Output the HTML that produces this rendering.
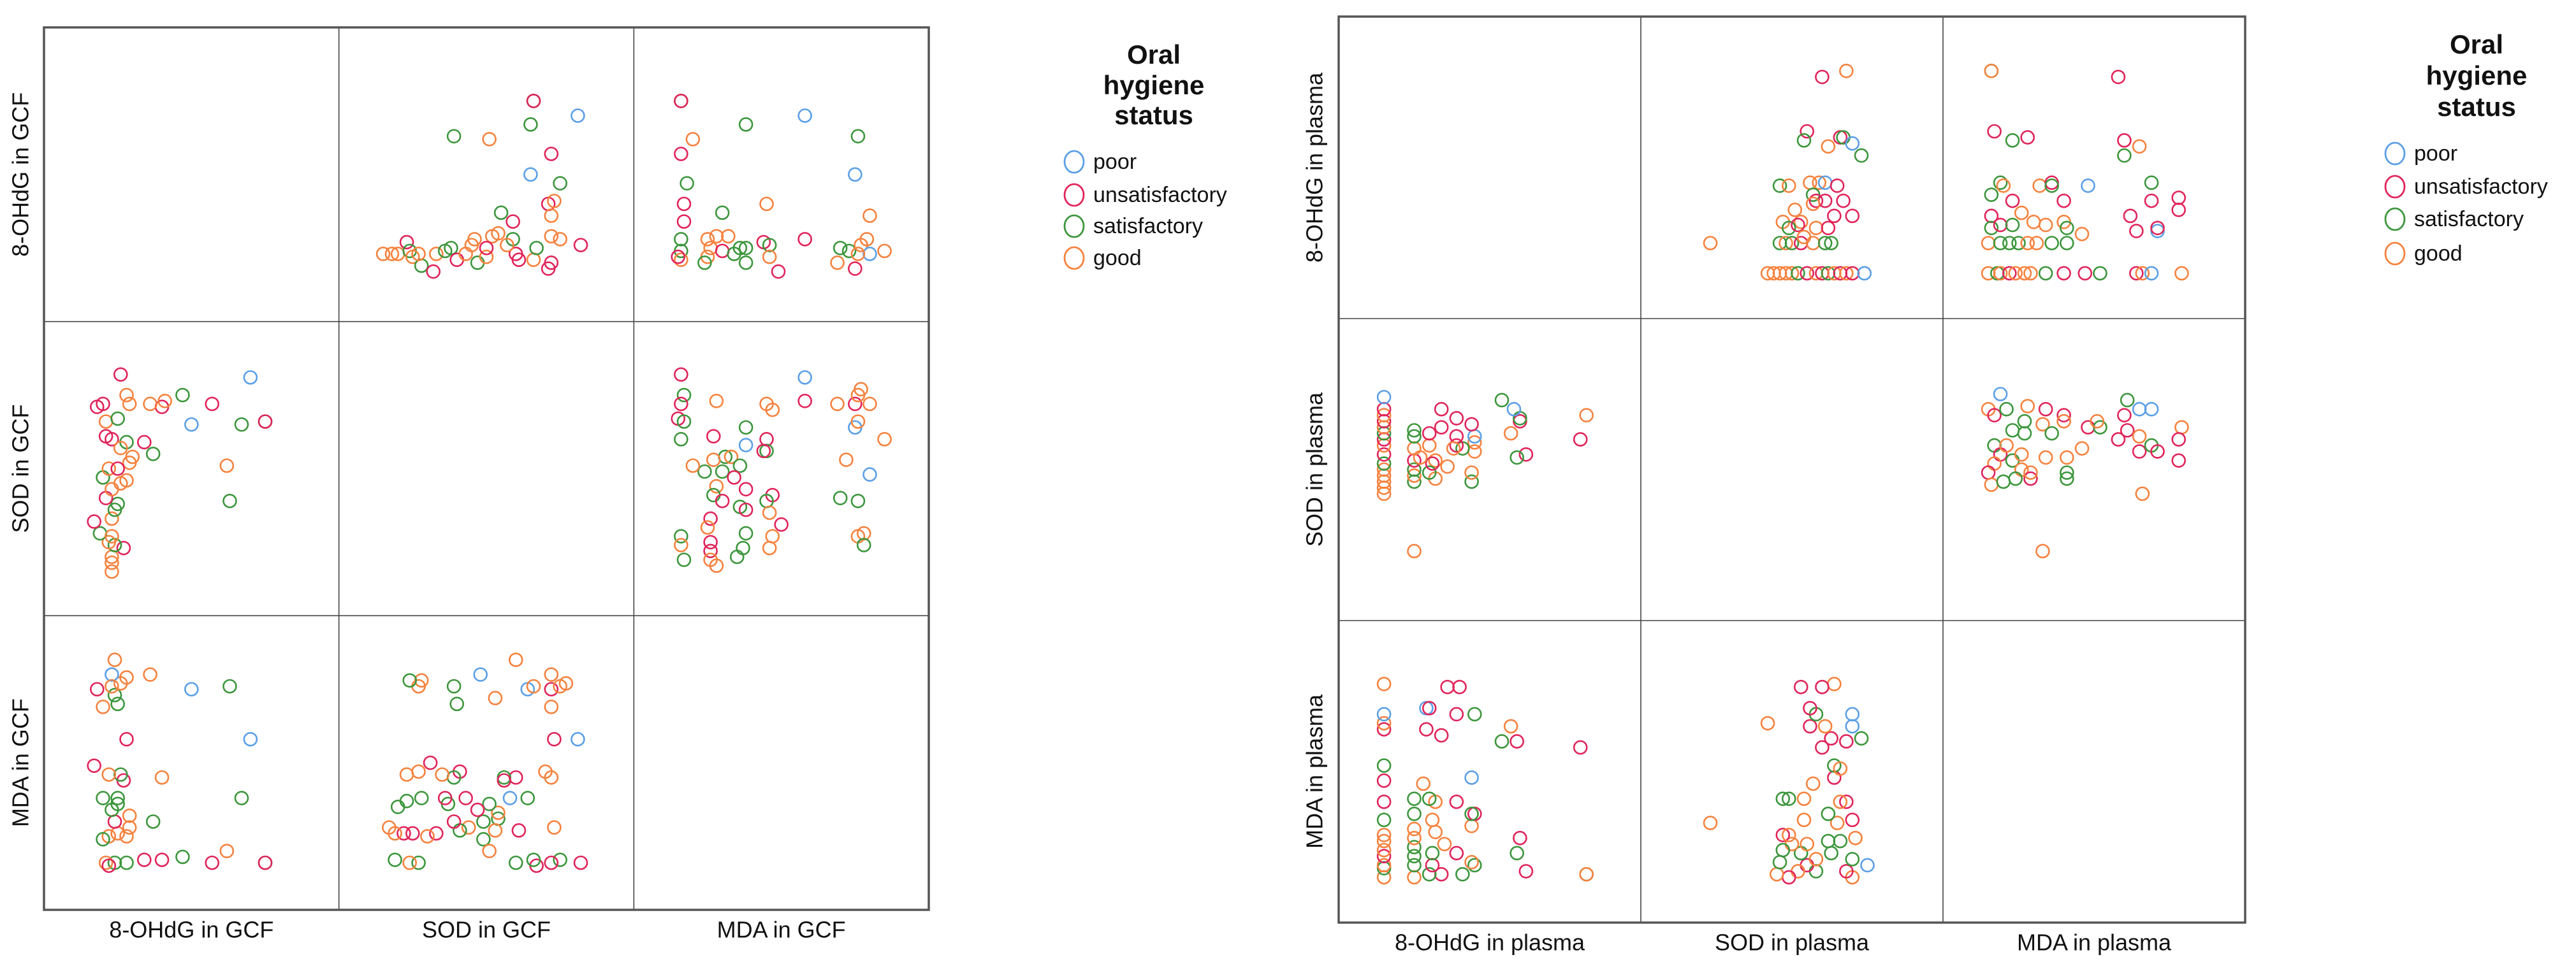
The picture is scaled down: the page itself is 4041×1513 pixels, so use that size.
<!DOCTYPE html>
<html><head><meta charset="utf-8"><style>
html,body{margin:0;padding:0;background:#fff;}
svg{display:block;}
text{font-family:"Liberation Sans",sans-serif;fill:#111;}
</style></head><body>
<svg id="c" width="4041" height="1513" viewBox="0 0 4041 1513" xmlns="http://www.w3.org/2000/svg"></svg>
<script>
// Data values on a 0-100 scale per variable; group: p=poor,u=unsatisfactory,s=satisfactory,g=good
const groupKeys = ['p','u','s','g'];
const groupLabels = ['poor','unsatisfactory','satisfactory','good'];
const gcfVars = ['8-OHdG in GCF','SOD in GCF','MDA in GCF'];
const plasmaVars = ['8-OHdG in plasma','SOD in plasma','MDA in plasma'];
// GCF: SOD (x) vs 8-OHdG (y)
const gcfSodOhdg = [[66,75,'s'],[66,75,'u'],[81,70,'p'],[39,63,'s'],[51,62,'g'],[65,67,'s'],[72,57,'u'],[65,50,'p'],[75,47,'s'],[71,40,'u'],[73,41,'g'],[72,36,'g'],[55,37,'s'],[59,34,'u'],[54,30,'g'],[52,29,'g'],[46,28,'g'],[59,28,'s'],[72,29,'g'],[75,28,'g'],[82,26,'u'],[18,23,'g'],[20,23,'g'],[23,27,'u'],[24,24,'s'],[25,22,'g'],[28,19,'s'],[32,17,'u'],[33,23,'g'],[36,24,'s'],[38,25,'s'],[40,21,'u'],[43,23,'g'],[47,20,'s'],[50,22,'g'],[50,25,'u'],[60,23,'u'],[61,21,'u'],[66,21,'g'],[67,25,'s'],[71,18,'u'],[72,20,'u'],[15,23,'g'],[27,23,'g'],[45,26,'g'],[57,26,'g']];
// GCF: MDA (x) vs 8-OHdG (y)
const gcfMdaOhdg = [[16,75,'s'],[16,75,'u'],[58,70,'p'],[38,67,'s'],[76,63,'s'],[20,62,'g'],[16,57,'u'],[75,50,'p'],[18,47,'s'],[45,40,'g'],[17,40,'u'],[30,37,'s'],[80,36,'g'],[17,34,'u'],[58,28,'u'],[16,28,'s'],[16,24,'s'],[16,21,'g'],[15,22,'u'],[25,28,'g'],[26,25,'g'],[25,22,'g'],[28,29,'g'],[32,29,'g'],[30,24,'u'],[24,20,'s'],[34,23,'s'],[36,25,'s'],[38,20,'s'],[38,25,'s'],[44,27,'u'],[46,26,'s'],[46,22,'g'],[49,17,'u'],[69,20,'g'],[70,25,'s'],[73,24,'s'],[75,18,'u'],[77,26,'g'],[79,28,'g'],[80,23,'p'],[85,24,'g'],[76,23,'g']];
// GCF: MDA (x) vs SOD (y)
const gcfMdaSod = [[16,82,'u'],[58,81,'p'],[17,75,'s'],[28,73,'g'],[58,73,'u'],[45,72,'g'],[47,70,'g'],[69,72,'g'],[75,72,'u'],[77,77,'g'],[80,72,'g'],[76,75,'g'],[16,72,'u'],[15,67,'u'],[17,66,'s'],[38,64,'s'],[75,64,'p'],[76,66,'g'],[16,60,'s'],[27,61,'u'],[38,58,'p'],[45,60,'u'],[45,56,'s'],[44,56,'u'],[85,60,'g'],[31,54,'s'],[33,54,'g'],[36,51,'s'],[27,53,'g'],[24,49,'s'],[20,51,'g'],[30,49,'s'],[34,47,'u'],[72,53,'g'],[80,48,'p'],[28,44,'g'],[38,43,'u'],[27,41,'s'],[30,39,'u'],[36,37,'s'],[38,36,'u'],[47,41,'u'],[45,39,'s'],[46,35,'g'],[70,40,'s'],[76,39,'s'],[26,33,'u'],[25,30,'g'],[50,31,'u'],[16,27,'s'],[16,24,'g'],[17,19,'s'],[26,25,'u'],[26,22,'u'],[26,19,'g'],[28,17,'g'],[35,20,'s'],[37,23,'s'],[38,28,'s'],[46,23,'g'],[47,27,'g'],[76,27,'g'],[78,28,'g'],[78,24,'s']];
// Plasma: SOD (x) vs 8-OHdG (y)
const plSodOhdg = [[60,80,'u'],[68,82,'g'],[55,62,'u'],[54,59,'s'],[66,60,'u'],[67,60,'s'],[70,58,'p'],[62,57,'g'],[73,54,'s'],[46,44,'s'],[49,44,'g'],[56,45,'g'],[59,45,'g'],[61,45,'p'],[65,44,'u'],[57,41,'s'],[58,39,'u'],[61,39,'u'],[67,39,'u'],[57,38,'g'],[51,36,'g'],[47,32,'g'],[53,32,'g'],[64,34,'u'],[70,34,'u'],[49,30,'s'],[52,31,'u'],[58,30,'g'],[62,30,'u'],[23,25,'g'],[46,25,'s'],[48,25,'g'],[50,25,'s'],[53,25,'u'],[57,25,'g'],[61,25,'s'],[63,25,'s'],[54,27,'g'],[42,15,'g'],[44,15,'g'],[46,15,'g'],[48,15,'g'],[50,15,'g'],[52,15,'s'],[55,15,'u'],[58,15,'g'],[60,15,'u'],[62,15,'s'],[64,15,'g'],[66,15,'u'],[68,15,'g'],[70,15,'u'],[74,15,'p']];
// Plasma: MDA (x) vs 8-OHdG (y)
const plMdaOhdg = [[16,82,'s'],[16,82,'g'],[58,80,'u'],[17,62,'u'],[23,59,'s'],[28,60,'u'],[60,59,'u'],[65,57,'g'],[60,54,'s'],[19,45,'s'],[20,44,'g'],[32,44,'g'],[36,45,'u'],[36,44,'s'],[48,44,'p'],[69,45,'s'],[16,41,'s'],[23,39,'u'],[40,39,'u'],[69,39,'u'],[78,40,'u'],[78,36,'u'],[16,34,'u'],[26,35,'g'],[30,32,'g'],[40,32,'g'],[62,34,'u'],[16,30,'s'],[19,31,'u'],[23,31,'s'],[34,31,'g'],[41,30,'s'],[46,28,'g'],[64,29,'u'],[71,29,'p'],[71,30,'u'],[15,25,'g'],[19,25,'s'],[22,25,'s'],[25,25,'s'],[28,25,'g'],[31,25,'g'],[36,25,'s'],[41,25,'s'],[15,15,'g'],[18,15,'s'],[19,15,'g'],[22,15,'u'],[24,15,'g'],[27,15,'g'],[29,15,'g'],[34,15,'s'],[40,15,'u'],[47,15,'u'],[52,15,'s'],[64,15,'u'],[66,15,'g'],[69,15,'p'],[79,15,'g']];
// Plasma: MDA (x) vs SOD (y)
const plMdaSod = [[19,75,'p'],[28,71,'g'],[15,70,'g'],[17,68,'u'],[21,70,'s'],[34,70,'u'],[40,68,'u'],[40,66,'g'],[61,73,'s'],[65,70,'p'],[69,70,'p'],[60,68,'u'],[79,64,'g'],[23,63,'s'],[27,66,'s'],[27,62,'s'],[33,65,'g'],[36,62,'s'],[48,64,'u'],[52,64,'s'],[51,66,'g'],[58,60,'u'],[61,63,'u'],[65,61,'g'],[65,56,'u'],[69,58,'s'],[71,56,'u'],[78,60,'u'],[78,53,'u'],[17,58,'s'],[19,55,'u'],[21,58,'g'],[17,52,'g'],[23,53,'s'],[26,55,'g'],[26,50,'g'],[34,54,'g'],[41,54,'g'],[46,57,'g'],[15,49,'u'],[16,45,'g'],[20,46,'s'],[24,47,'s'],[29,47,'u'],[29,49,'g'],[41,49,'s'],[41,47,'s'],[66,42,'g'],[33,23,'g']];

const groupColors = {p:'#5b9fe6',u:'#e0245a',s:'#3c963c',g:'#f5823e'};
const svg = document.getElementById('c');
const NS = 'http://www.w3.org/2000/svg';
function mk(tag, attrs, parent){
  const e = document.createElementNS(NS, tag);
  for (const k in attrs) e.setAttribute(k, attrs[k]);
  (parent||svg).appendChild(e);
  return e;
}

function drawMatrix(side, fx0, fy0, fx1, fy1, vars, pairs, ylabX, xlabY, leg){
  const g = mk('g', {});
  
  
  const cw = (fx1 - fx0) / 3, ch = (fy1 - fy0) / 3;
  // axis functions
  const xScale = (c, v) => fx0 + c * cw + v / 100 * cw;
  const yScale = (r, v) => fy0 + r * ch + (1 - v / 100) * ch;
  // grid lines
  for (let i = 1; i < 3; i++) {
    const vl = mk('line', {x1: fx0 + i * cw, x2: fx0 + i * cw, y1: fy0, y2: fy1, stroke: '#444', 'stroke-width': 1.6}, g);
    
    
    const hl = mk('line', {x1: fx0, x2: fx1, y1: fy0 + i * ch, y2: fy0 + i * ch, stroke: '#444', 'stroke-width': 1.6}, g);
    
    
  }
  const fr = mk('rect', {x: fx0, y: fy0, width: fx1 - fx0, height: fy1 - fy0, fill: 'none', stroke: '#555', 'stroke-width': 3.5}, g);
  
  
  // points: pairs[i] = {xv, yv, data}
  pairs.forEach(p => {
    [[p.xv, p.yv, false], [p.yv, p.xv, true]].forEach(([c, r, swap]) => {
      const cell = mk('g', {}, g);
      
      
      p.data.forEach(d => {
        const xv = swap ? d[1] : d[0], yv = swap ? d[0] : d[1];
        const pt = mk('circle', {cx: xScale(c, xv), cy: yScale(r, yv), r: 10, fill: 'none', stroke: groupColors[d[2]], 'stroke-width': 2.6}, cell);
        
        
      });
    });
  });
  // labels
  vars.forEach((v, i) => {
    const xl = mk('text', {x: fx0 + (i + 0.5) * cw, y: xlabY, 'text-anchor': 'middle', 'dominant-baseline': 'middle', 'font-size': 36}, g);
    xl.textContent = v;
    
    
    const cy = fy0 + (i + 0.5) * ch;
    const yl = mk('text', {x: ylabX, y: cy, 'text-anchor': 'middle', 'dominant-baseline': 'middle', 'font-size': 36, transform: 'rotate(-90 ' + ylabX + ' ' + cy + ')'}, g);
    yl.textContent = v;
    
    
  });
  // legend
  const lg = mk('g', {}, g);
  
  
  ['Oral', 'hygiene', 'status'].forEach((t, i) => {
    const tt = mk('text', {x: leg.tx, y: leg.ty[i], 'text-anchor': 'middle', 'dominant-baseline': 'middle', 'font-size': 42, 'font-weight': 'bold'}, lg);
    tt.textContent = t;
    
    
  });
  groupKeys.forEach((k, i) => {
    const e = mk('g', {}, lg);
    
    
    mk('ellipse', {cx: leg.cx, cy: leg.ey[i], rx: 15, ry: 17, fill: 'none', stroke: groupColors[k], 'stroke-width': 2.8}, e);
    const t = mk('text', {x: leg.cx + 30, y: leg.ey[i] + 2, 'dominant-baseline': 'middle', 'font-size': 34}, e);
    t.textContent = groupLabels[i];
  });
}

drawMatrix('gcf', 69, 43, 1457, 1428, gcfVars,
  [{xv:1, yv:0, data: gcfSodOhdg}, {xv:2, yv:0, data: gcfMdaOhdg}, {xv:2, yv:1, data: gcfMdaSod}],
  35, 1462, {tx:1810, ty:[89,137,184], cx:1685, ey:[254,306,355,405]});
drawMatrix('plasma', 2100, 26, 3522, 1448, plasmaVars,
  [{xv:1, yv:0, data: plSodOhdg}, {xv:2, yv:0, data: plMdaOhdg}, {xv:2, yv:1, data: plMdaSod}],
  2065, 1482, {tx:3885, ty:[73,122,171], cx:3757, ey:[241,293,344,398]});
</script>
</body></html>
